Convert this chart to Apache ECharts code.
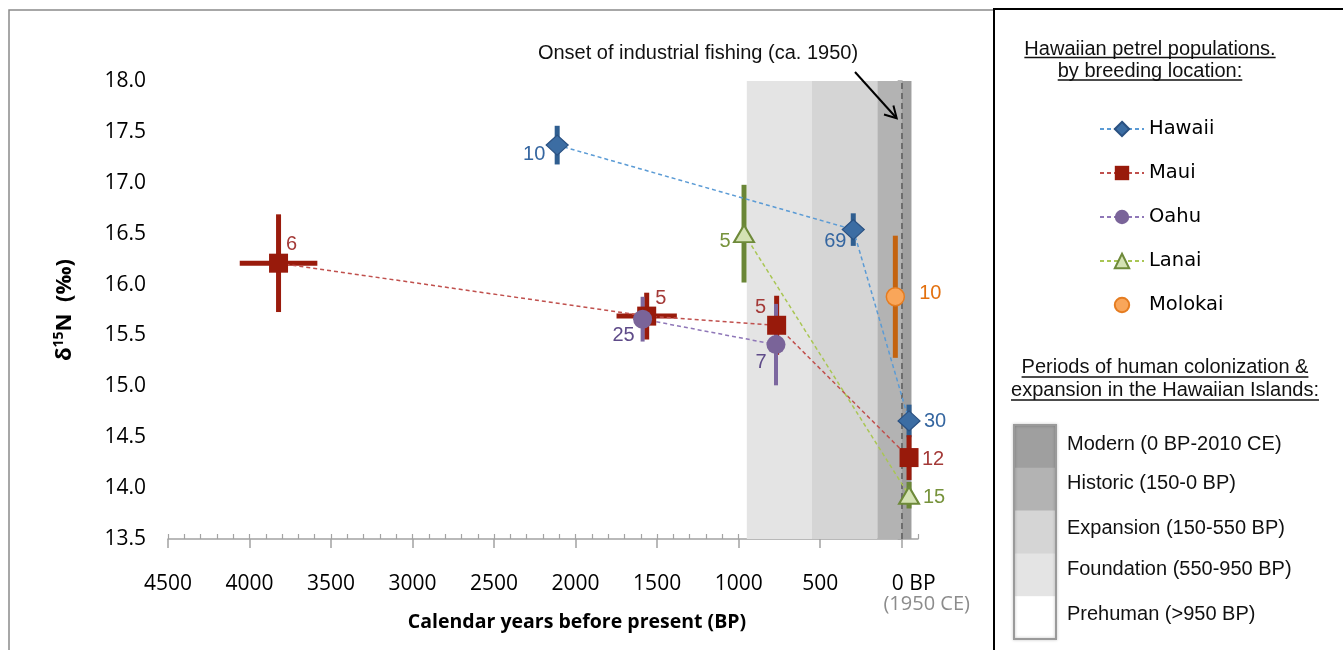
<!DOCTYPE html>
<html>
<head>
<meta charset="utf-8">
<title>Hawaiian petrel δ15N through time</title>
<script src="https://cdn.jsdelivr.net/npm/echarts@6/dist/echarts.min.js"></script>
<style>
  html, body { margin: 0; padding: 0; background: #ffffff; }
  #chart { width: 1343px; height: 650px; }
</style>
</head>
<body>
<div id="chart"></div>
<script>
// ---- data: mean δ15N (‰) per population, age in calendar years BP ----
const islands = ['Hawaii', 'Maui', 'Oahu', 'Lanai', 'Molokai'];

const hawaiiAge = [2113, 297, -45];
const hawaiiD15N = [17.37, 16.54, 14.66];
const hawaiiErrY = [0.19, 0.16, 0.16];
const hawaiiN = [10, 69, 30];

const mauiAge = [3822, 1564, 767, -45];
const mauiD15N = [16.21, 15.69, 15.60, 14.30];
const mauiErrY = [0.48, 0.23, 0.29, 0.22];
const mauiErrX = [238, 185, 0, 0];
const mauiN = [6, 5, 5, 12];

const oahuAge = [1589, 771];
const oahuD15N = [15.66, 15.41];
const oahuErrY = [0.22, 0.40];
const oahuN = [25, 7];

const lanaiAge = [967, -45];
const lanaiD15N = [16.50, 13.93];
const lanaiErrY = [0.48, 0.13];
const lanaiN = [5, 15];

const molokaiAge = [39];
const molokaiD15N = [15.88];
const molokaiErrY = [0.60];
const molokaiN = [10];

// ---- axes ----
const xMajorTicks = [4500, 4000, 3500, 3000, 2500, 2000, 1500, 1000, 500, 0];
const xTickLabels = ['4500', '4000', '3500', '3000', '2500', '2000', '1500', '1000', '500', '0 BP'];
const xPresentNote = '(1950 CE)';
const yTickLabels = ['13.5', '14.0', '14.5', '15.0', '15.5', '16.0', '16.5', '17.0', '17.5', '18.0'];

// ---- periods of human colonization (years BP; negative = after 1950 CE) ----
const periodNames = ['Modern (0 BP-2010 CE)', 'Historic (150-0 BP)', 'Expansion (150-550 BP)',
                     'Foundation (550-950 BP)', 'Prehuman (>950 BP)'];
const periodOlder = [0, 150, 550, 950];
const periodYounger = [-60, 0, 150, 550];
const fishingOnset = 0;

// ---- styling ----
const periodColors = ['#9f9f9f', '#b3b3b3', '#d5d5d5', '#e4e4e4', '#ffffff'];
const islandStyle = {
  Hawaii:  { symbol: 'diamond', size: [22, 20], fill: '#3c6da3', border: '#2a5182', bw: 1.2,
             line: '#5b9bd5', bar: '#2f5e90', barW: 5, label: '#3566a0',
             offsets: [[-23, 9], [-18, 12], [26, 1]] },
  Maui:    { symbol: 'rect', size: 19, fill: '#981a0b', border: '#981a0b', bw: 0,
             line: '#c0504d', bar: '#9a1b0c', barW: 5, label: '#a43a38',
             offsets: [[13, -19], [14, -18], [-16, -18], [24, 2]] },
  Oahu:    { symbol: 'circle', size: 19, fill: '#7a6499', border: '#7a6499', bw: 0,
             line: '#8f77b8', bar: '#7c679f', barW: 4, label: '#5f4b89',
             offsets: [[-19, 16], [-15, 18]] },
  Lanai:   { symbol: 'triangle', size: [20, 17], fill: '#d4e2b4', border: '#6e8a3a', bw: 2,
             line: '#a9c654', bar: '#6a8636', barW: 5, label: '#77933c',
             offsets: [[-19, 8], [25, 2]] },
  Molokai: { symbol: 'circle', size: 18, fill: '#f9a65a', border: '#e57c20', bw: 1.5,
             line: '#f79646', bar: '#c4630f', barW: 5, label: '#e3700e',
             offsets: [[35, -3]] }
};

const numberFont = 'Open Sans';
const textFont = 'Liberation Sans';

// grid geometry (x: 4500 → -100 BP, y: 13.5 → 18.0 ‰)
const gridLeft = 168, gridTop = 81, gridWidth = 750, gridHeight = 458;

function islandLine(name, ages, vals, counts) {
  const s = islandStyle[name];
  return {
    name: name,
    type: 'line',
    z: 5,
    silent: true,
    data: ages.map((a, i) => ({ value: [a, vals[i]], label: { offset: s.offsets[i] } })),
    symbol: s.symbol,
    symbolSize: s.size,
    itemStyle: { color: s.fill, borderColor: s.border, borderWidth: s.bw, opacity: 1 },
    lineStyle: { color: s.line, width: 1.5, type: [4, 3] },
    label: {
      show: true,
      position: 'inside',
      formatter: p => String(counts[p.dataIndex]),
      color: s.label,
      fontFamily: textFont,
      fontSize: 20
    },
    emphasis: { disabled: true }
  };
}

// vertical (and optional horizontal) error bars, drawn through the axes
function errorBars(name, ages, vals, errY, errX) {
  const s = islandStyle[name];
  return {
    type: 'custom',
    z: 3,
    silent: true,
    data: ages.map((a, i) => [a, vals[i], errY[i], errX ? errX[i] : 0]),
    encode: { x: 0, y: 1 },
    renderItem: function (params, api) {
      const x = api.value(0), y = api.value(1), ey = api.value(2), ex = api.value(3);
      const top = api.coord([x, y + ey]);
      const bottom = api.coord([x, y - ey]);
      const children = [{
        type: 'line',
        shape: { x1: top[0], y1: top[1], x2: bottom[0], y2: bottom[1] },
        style: { stroke: s.bar, lineWidth: s.barW }
      }];
      if (ex > 0) {
        const older = api.coord([x + ex, y]);
        const younger = api.coord([x - ex, y]);
        children.push({
          type: 'line',
          shape: { x1: older[0], y1: older[1], x2: younger[0], y2: younger[1] },
          style: { stroke: s.bar, lineWidth: s.barW }
        });
      }
      return { type: 'group', children: children };
    }
  };
}

const chart = echarts.init(document.getElementById('chart'), null, { renderer: 'canvas' });

const axisGrey = '#a3a3a3';

function tickIndex(v) {
  for (let i = 0; i < xMajorTicks.length; i++) {
    if (Math.abs(xMajorTicks[i] - v) < 1e-6) return i;
  }
  return -1;
}

const option = {
  animation: false,
  backgroundColor: '#ffffff',
  grid: { left: gridLeft, top: gridTop, width: gridWidth, height: gridHeight, containLabel: false },
  xAxis: [
    {
      type: 'value',
      inverse: true,
      min: -100,
      max: 4500,
      position: 'bottom',
      axisLine: { show: true, onZero: false, lineStyle: { color: axisGrey, width: 1.5 } },
      axisTick: { show: true, customValues: xMajorTicks, inside: false, length: 9,
                  lineStyle: { color: axisGrey, width: 1.5 } },
      axisLabel: {
        customValues: xMajorTicks,
        showMinLabel: true,
        showMaxLabel: true,
        hideOverlap: false,
        margin: 34,
        fontFamily: numberFont,
        fontSize: 21,
        color: '#000000',
        lineHeight: 22,
        formatter: function (v) {
          const i = tickIndex(v);
          if (i < 0) return '';
          if (xMajorTicks[i] === 0) return '{z|' + xTickLabels[i] + '}';
          return xTickLabels[i];
        },
        rich: {
          z: { fontFamily: numberFont, fontSize: 21, color: '#000000', lineHeight: 22, padding: [0, 0, 0, 24] }
        }
      },
      splitLine: { show: false },
      name: 'Calendar years before present (BP)',
      nameLocation: 'middle',
      nameGap: 73,
      nameTextStyle: {
        fontFamily: numberFont, fontWeight: 'bold', fontSize: 19.5, color: '#000000',
        padding: [0, 0, 0, 68]
      }
    },
    {
      // minor ticks every 100 years, pointing up from the baseline
      type: 'value',
      inverse: true,
      min: -100,
      max: 4500,
      interval: 100,
      position: 'top',
      offset: -gridHeight,
      axisLine: { show: false, onZero: false },
      axisTick: { show: true, inside: false, length: 5, lineStyle: { color: axisGrey, width: 1.2 } },
      axisLabel: { show: false },
      splitLine: { show: false }
    }
  ],
  yAxis: {
    type: 'value',
    min: 13.5,
    max: 18.0,
    interval: 0.5,
    axisLine: { show: true, lineStyle: { color: axisGrey, width: 1.5 } },
    axisTick: { show: true, inside: false, length: 4, lineStyle: { color: axisGrey, width: 1.5 } },
    axisLabel: {
      margin: 22,
      fontFamily: numberFont,
      fontSize: 21,
      color: '#000000',
      formatter: function (v) { return yTickLabels[Math.round((v - 13.5) / 0.5)]; }
    },
    splitLine: { show: false },
    name: '{d|δ}{s|15}{d|N  (‰)}',
    nameLocation: 'middle',
    nameRotate: 90,
    nameGap: 90,
    nameTextStyle: {
      rich: {
        d: { fontFamily: numberFont, fontWeight: 'bold', fontSize: 22, color: '#000000', lineHeight: 26 },
        s: { fontFamily: numberFont, fontWeight: 'bold', fontSize: 14, color: '#000000', lineHeight: 14, verticalAlign: 'top' }
      }
    }
  },
  legend: {
    orient: 'vertical',
    left: 1094,
    top: 114,
    itemWidth: 44,
    itemHeight: 18,
    itemGap: 24,
    selectedMode: false,
    data: islands.map(n => n === 'Molokai' ? { name: n, lineStyle: { opacity: 0, width: 0 } } : { name: n }),
    textStyle: { fontFamily: 'DejaVu Sans', fontSize: 19.5, color: '#000000' }
  },
  series: [
    {
      // colonization periods as shaded bands
      type: 'line',
      name: 'periods',
      data: [],
      z: 1,
      silent: true,
      markArea: {
        silent: true,
        data: periodOlder.map((o, i) => [
          { xAxis: o, itemStyle: { color: periodColors[i] } },
          { xAxis: periodYounger[i] }
        ])
      }
    },
    {
      type: 'line',
      name: 'fishing',
      data: [],
      z: 2,
      silent: true,
      markLine: {
        silent: true,
        symbol: 'none',
        label: { show: false },
        lineStyle: { color: '#6d6d6d', width: 2, type: [6, 4] },
        data: [{ xAxis: fishingOnset }]
      }
    },
    errorBars('Hawaii', hawaiiAge, hawaiiD15N, hawaiiErrY),
    errorBars('Maui', mauiAge, mauiD15N, mauiErrY, mauiErrX),
    errorBars('Oahu', oahuAge, oahuD15N, oahuErrY),
    errorBars('Lanai', lanaiAge, lanaiD15N, lanaiErrY),
    errorBars('Molokai', molokaiAge, molokaiD15N, molokaiErrY),
    islandLine('Hawaii', hawaiiAge, hawaiiD15N, hawaiiN),
    islandLine('Maui', mauiAge, mauiD15N, mauiN),
    islandLine('Oahu', oahuAge, oahuD15N, oahuN),
    islandLine('Lanai', lanaiAge, lanaiD15N, lanaiN),
    islandLine('Molokai', molokaiAge, molokaiD15N, molokaiN)
  ]
};

chart.setOption(option);

// ---- panel frames, headings, period key and annotation ----
const measureCtx = document.createElement('canvas').getContext('2d');
function textWidth(str, font) { measureCtx.font = font; return measureCtx.measureText(str).width; }

const headFont = '20px "' + textFont + '"';
const graphics = [];

// outer frames
graphics.push({ type: 'rect', shape: { x: 9, y: 10, width: 985, height: 660 },
                style: { fill: null, stroke: '#8a8a8a', lineWidth: 1.5 }, silent: true });
graphics.push({ type: 'line', shape: { x1: 994, y1: 8, x2: 994, y2: 650 },
                style: { stroke: '#000000', lineWidth: 2 }, silent: true });
graphics.push({ type: 'line', shape: { x1: 994, y1: 9, x2: 1343, y2: 9 },
                style: { stroke: '#000000', lineWidth: 2 }, silent: true });

// "(1950 CE)" note under the present-day tick
const presentX = chart.convertToPixel({ xAxisIndex: 0 }, 0);
graphics.push({ type: 'text', x: presentX + 25, y: 604, silent: true,
                style: { text: xPresentNote, font: '20px "' + numberFont + '"', fill: '#8c8c8c',
                         align: 'center', verticalAlign: 'middle' } });

// underlined headings
function heading(text, cx, cy, underlineY) {
  const w = textWidth(text, headFont);
  graphics.push({ type: 'text', x: cx, y: cy, silent: true,
                  style: { text: text, font: headFont, fill: '#111111', align: 'center', verticalAlign: 'middle' } });
  graphics.push({ type: 'line', silent: true,
                  shape: { x1: cx - w / 2, y1: underlineY, x2: cx + w / 2, y2: underlineY },
                  style: { stroke: '#111111', lineWidth: 1.5 } });
}
heading('Hawaiian petrel populations.', 1150, 49, 57.5);
heading('by breeding location:', 1150, 71, 80);
heading('Periods of human colonization &', 1165, 367.5, 377);
heading('expansion in the Hawaiian Islands:', 1165, 390.5, 400);

// period key: stacked swatches with labels
const keyX = 1014, keyW = 42, keyTop = 425, keyStep = 42.8;
const keyTextY = [444.5, 483, 528, 569.5, 614.5];
periodNames.forEach((name, i) => {
  graphics.push({ type: 'rect', silent: true,
                  shape: { x: keyX, y: keyTop + i * keyStep, width: keyW, height: keyStep + 0.5 },
                  style: { fill: periodColors[i] } });
  graphics.push({ type: 'text', x: 1067, y: keyTextY[i], silent: true,
                  style: { text: name, font: headFont, fill: '#111111', align: 'left', verticalAlign: 'middle' } });
});
graphics.push({ type: 'rect', silent: true,
                shape: { x: keyX, y: keyTop, width: keyW, height: keyStep * 5 },
                style: { fill: null, stroke: '#9a9a9a', lineWidth: 2,
                         shadowBlur: 3, shadowColor: 'rgba(0,0,0,0.25)' } });

// annotation for the onset of industrial fishing (drawn above the shaded bands)
graphics.push({ type: 'text', x: 698, y: 53, silent: true,
                style: { text: 'Onset of industrial fishing (ca. 1950)', font: headFont, fill: '#111111',
                         align: 'center', verticalAlign: 'middle' } });
graphics.push({ type: 'polyline', silent: true, z: 100,
                shape: { points: [[855, 72], [896, 117.5]] },
                style: { stroke: '#000000', lineWidth: 2, fill: null } });
graphics.push({ type: 'polyline', silent: true, z: 100,
                shape: { points: [[884, 114.5], [896.7, 118.3], [893.4, 105.5]] },
                style: { stroke: '#000000', lineWidth: 2, fill: null, lineJoin: 'miter' } });

chart.setOption({ graphic: { z: 100, elements: graphics } });
</script>
</body>
</html>
